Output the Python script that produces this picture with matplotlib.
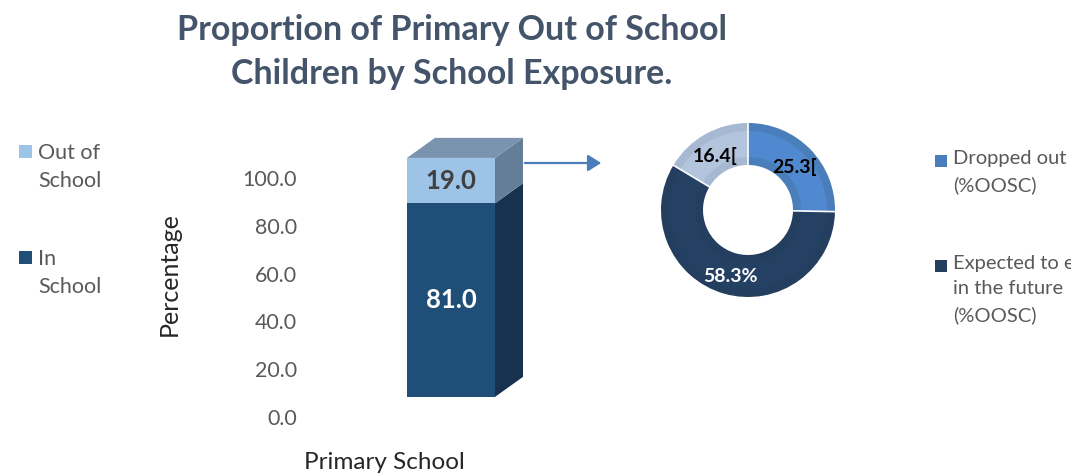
import matplotlib
matplotlib.use("Agg")
import matplotlib.pyplot as plt
from matplotlib.patches import Polygon, Rectangle, FancyArrowPatch
import numpy as np

plt.rcParams['font.family'] = ['Lato', 'DejaVu Sans']

# ---- data ----
title = "Proportion of Primary Out of School\nChildren by School Exposure."
category = "Primary School"
bar_series = ["In\nSchool", "Out of\nSchool"]
bar_values = [81.0, 19.0]
y_ticks = [0, 20, 40, 60, 80, 100]
donut_labels = ["Dropped out\n(%OOSC)", "Expected to enter\nin the future\n(%OOSC)", "Never expected to enter\n(%OOSC)"]
donut_values = [25.3, 58.3, 16.4]
donut_texts = ["25.3[", "58.3%", "16.4["]

W, H = 1071, 473
fig = plt.figure(figsize=(W / 100, H / 100), dpi=100)
fig.patch.set_facecolor("white")

def fx(px):
    return px / W

def fy(py):
    return 1 - py / H

grey = "#595959"

# title
fig.text(fx(452), fy(52), title, ha="center", va="center", fontsize=24.5,
         fontweight="bold", color="#44546A", linespacing=1.46)

# ---- bar chart ----
ax = fig.add_axes([fx(300), fy(417), fx(260), 286.8 / H])
ax.set_xlim(0, 260)
ax.set_ylim(0, 120)
for s in ax.spines.values():
    s.set_visible(False)
ax.set_xticks([])
ax.set_yticks(y_ticks)
ax.set_yticklabels([f"{v:.1f}" for v in y_ticks], fontsize=15.4, color=grey)
ax.tick_params(axis="y", length=0, pad=2)
ax.yaxis.set_label_coords(-0.46, 0.41)
ax.set_ylabel("Percentage", fontsize=18, color="#262626")
ax.text(84 / 260, -0.157, category, transform=ax.transAxes, ha="center",
        va="center", fontsize=17.5, color="#262626")

bar_x = 151
bar_w = 88
dx = 28          # depth in x (px)
dy = 8.4         # depth in y (data units)
lift = 8.4       # perspective lift of front face
front_cols = ["#1F4E79", "#9DC3E6"]
side_cols = ["#16324F", "#647D99"]
top_col = "#7A94B0"
label_cols = ["white", "#404040"]

bottom = lift
for val, fc, sc, lc in zip(bar_values, front_cols, side_cols, label_cols):
    ax.bar(bar_x, val, width=bar_w, bottom=bottom, color=fc, edgecolor="none", zorder=3)
    xr = bar_x + bar_w / 2
    side = Polygon([(xr, bottom), (xr + dx, bottom + dy), (xr + dx, bottom + val + dy), (xr, bottom + val)],
                   closed=True, facecolor=sc, edgecolor="none", zorder=2)
    ax.add_patch(side)
    ax.text(bar_x, bottom + val / 2, f"{val:.1f}", ha="center", va="center",
            fontsize=18.5, fontweight="bold", color=lc, zorder=5)
    bottom += val
xl = bar_x - bar_w / 2
xr = bar_x + bar_w / 2
top = Polygon([(xl, bottom), (xl + dx, bottom + dy), (xr + dx, bottom + dy), (xr, bottom)],
              closed=True, facecolor=top_col, edgecolor="none", zorder=2)
ax.add_patch(top)

# legends (manual, square aligned with the first line)
def legend_entry(sq_x, sq_y, color, label, fs, sq=13, ls=1.55, tdy=-2):
    fig.add_artist(Rectangle((fx(sq_x), fy(sq_y + sq)), sq / W, sq / H,
                             transform=fig.transFigure, facecolor=color, edgecolor="none"))
    fig.text(fx(sq_x + sq + 6), fy(sq_y + tdy), label, ha="left", va="top",
             fontsize=fs, color=grey, linespacing=ls)

legend_entry(19, 145, front_cols[1], bar_series[1], 15.5, ls=1.52, tdy=-2)
legend_entry(19, 251, front_cols[0], bar_series[0], 15.5, ls=1.52, tdy=-2)

# arrow
arr = FancyArrowPatch((fx(522), fy(163)), (fx(604), fy(163)), transform=fig.transFigure,
                      arrowstyle="-|>,head_length=8,head_width=5", color="#4A7EBB", lw=1.6)
fig.add_artist(arr)

# ---- donut ----
cx, cy, R = 748, 210, 87
axd = fig.add_axes([fx(cx - 100), fy(cy + 100), fx(200), 200 / H])
outer_cols = ["#4A7EBB", "#233E5F", "#A7B9D2"]
inner_cols = ["#5089CF", "#244063", "#B3C5DD"]
r0 = R / 100
w0 = 0.42
axd.pie(donut_values, colors=outer_cols, startangle=90, counterclock=False, radius=r0,
        wedgeprops=dict(width=w0, edgecolor="none"))
axd.pie(donut_values, colors=inner_cols, startangle=90, counterclock=False, radius=r0 - 0.08,
        wedgeprops=dict(width=w0 - 0.16, edgecolor="none"))
axd.set_xlim(-1, 1)
axd.set_ylim(-1, 1)
axd.set_aspect("equal")
axd.axis("off")
ang = 90
for v in donut_values:
    a = np.deg2rad(ang)
    axd.plot([(r0 - w0) * np.cos(a), r0 * np.cos(a)], [(r0 - w0) * np.sin(a), r0 * np.sin(a)],
             color="white", lw=1.2, zorder=4)
    ang -= v * 3.6
label_pos = [(795, 167), (730, 277), (715, 156)]
label_col = ["black", "white", "black"]
for txt, (px, py), c in zip(donut_texts, label_pos, label_col):
    axd.text((px - cx) / 100, (cy - py) / 100, txt, ha="center", va="center",
             fontsize=14, fontweight="bold", color=c, zorder=6)

legend_entry(935, 155, outer_cols[0], donut_labels[0], 14.5, sq=12, ls=1.6, tdy=-5)
legend_entry(935, 260, outer_cols[1], donut_labels[1], 14.5, sq=12, ls=1.6, tdy=-5)

fig.savefig("out.png", dpi=100)
